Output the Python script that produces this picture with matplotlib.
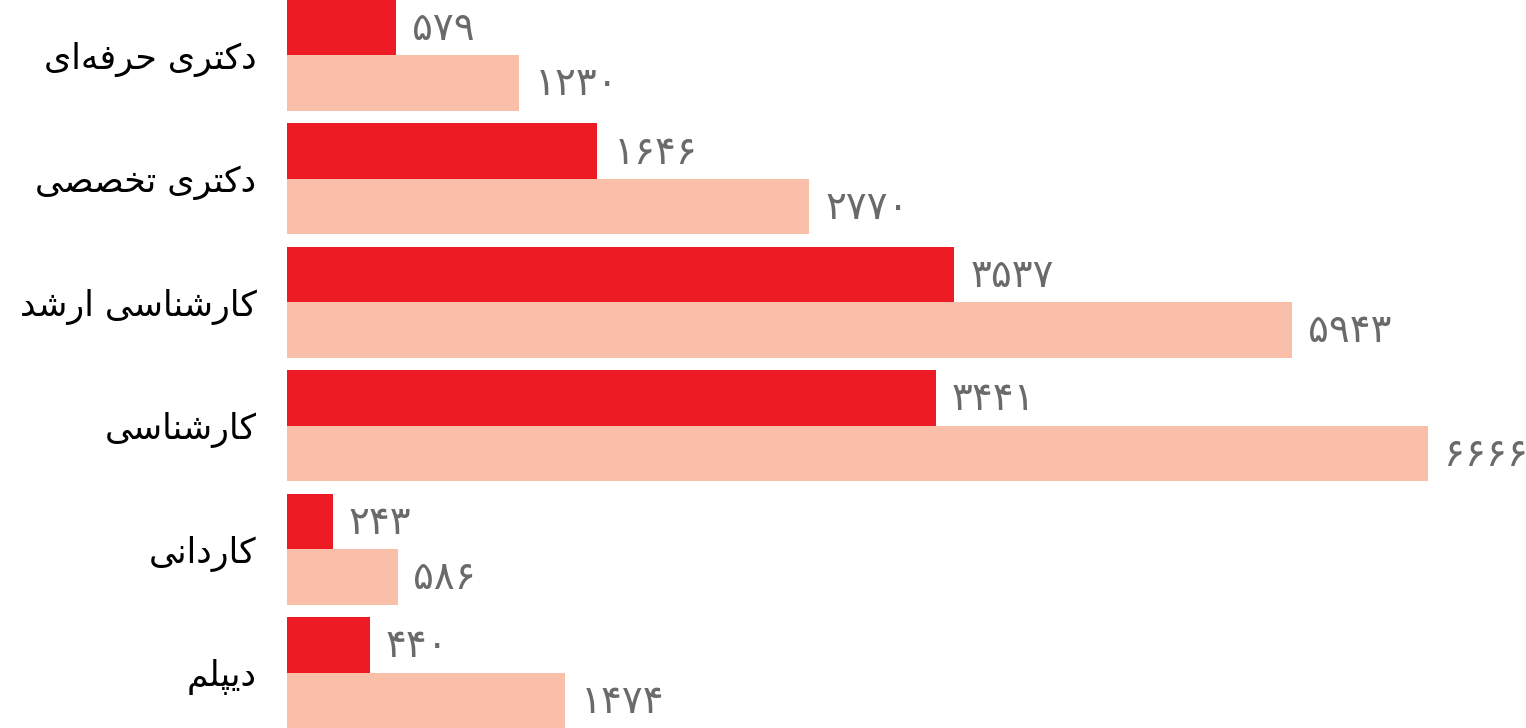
import numpy as np
import matplotlib
matplotlib.use("Agg")
import matplotlib.pyplot as plt

# ---------------- data ----------------
categories = ["دکتری حرفه‌ای", "دکتری تخصصی", "کارشناسی ارشد", "کارشناسی", "کاردانی", "دیپلم"]
series_a = [579, 1646, 3537, 3441, 243, 440]      # dark red
series_b = [1230, 2770, 5943, 6666, 586, 1474]    # light salmon

# ---------------- minimal Persian shaping ----------------
# letter: (isolated, final, initial, medial); None initial => does not join to next
FORMS = {
    'ا': ('\uFE8D', '\uFE8E', None, None),
    'ب': ('\uFE8F', '\uFE90', '\uFE91', '\uFE92'),
    'پ': ('\uFB56', '\uFB57', '\uFB58', '\uFB59'),
    'ت': ('\uFE95', '\uFE96', '\uFE97', '\uFE98'),
    'ج': ('\uFE9D', '\uFE9E', '\uFE9F', '\uFEA0'),
    'ح': ('\uFEA1', '\uFEA2', '\uFEA3', '\uFEA4'),
    'خ': ('\uFEA5', '\uFEA6', '\uFEA7', '\uFEA8'),
    'د': ('\uFEA9', '\uFEAA', None, None),
    'ر': ('\uFEAD', '\uFEAE', None, None),
    'ز': ('\uFEAF', '\uFEB0', None, None),
    'س': ('\uFEB1', '\uFEB2', '\uFEB3', '\uFEB4'),
    'ش': ('\uFEB5', '\uFEB6', '\uFEB7', '\uFEB8'),
    'ص': ('\uFEB9', '\uFEBA', '\uFEBB', '\uFEBC'),
    'ف': ('\uFED1', '\uFED2', '\uFED3', '\uFED4'),
    'ک': ('\uFB8E', '\uFB8F', '\uFB90', '\uFB91'),
    'ل': ('\uFEDD', '\uFEDE', '\uFEDF', '\uFEE0'),
    'م': ('\uFEE1', '\uFEE2', '\uFEE3', '\uFEE4'),
    'ن': ('\uFEE5', '\uFEE6', '\uFEE7', '\uFEE8'),
    'ه': ('\uFEE9', '\uFEEA', '\uFEEB', '\uFEEC'),
    'ی': ('\uFBFC', '\uFBFD', '\uFBFE', '\uFBFF'),
}


def shape(text):
    out = []
    n = len(text)
    for i, ch in enumerate(text):
        if ch not in FORMS:
            if ch != '\u200c':
                out.append(ch)
            continue
        prev = text[i - 1] if i > 0 else None
        nxt = text[i + 1] if i + 1 < n else None
        jp = prev in FORMS and FORMS[prev][2] is not None
        jn = FORMS[ch][2] is not None and nxt in FORMS
        iso, fin, ini, med = FORMS[ch]
        if jp and jn:
            out.append(med)
        elif jp:
            out.append(fin)
        elif jn:
            out.append(ini)
        else:
            out.append(iso)
    return ''.join(reversed(out))


def fa_digits(v):
    return str(v).translate(str.maketrans('0123456789', '۰۱۲۳۴۵۶۷۸۹'))


# ---------------- broken (compressed) value scale ----------------
def fwd(x):
    x = np.asarray(x, dtype=float)
    return np.where(x <= 4000, x,
                    np.where(x < 5000, 4000 + (x - 4000) * 0.385, x - 615))


def inv(y):
    y = np.asarray(y, dtype=float)
    return np.where(y <= 4000, y,
                    np.where(y < 4385, 4000 + (y - 4000) / 0.385, y + 615))


# ---------------- figure ----------------
plt.rcParams['font.family'] = ['DejaVu Sans']
fig = plt.figure(figsize=(15.26, 7.28), dpi=100)
ax = fig.add_axes([287 / 1526, 0, 1 - 287 / 1526, 1])
ax.set_xscale('function', functions=(fwd, inv))

DARK = '#ED1C24'
LIGHT = '#F9BFA8'
VAL = '#6A6A6A'
bh = 0.448
y = np.arange(len(categories))

ax.barh(y - bh / 2, series_a, height=bh, color=DARK, linewidth=0)
ax.barh(y + bh / 2, series_b, height=bh, color=LIGHT, linewidth=0)

for yi, va_, vb_ in zip(y, series_a, series_b):
    ax.annotate(fa_digits(va_), (va_, yi - bh / 2), xytext=(11.5, -1),
                textcoords='offset points', va='center', ha='left',
                fontsize=28, color=VAL)
    ax.annotate(fa_digits(vb_), (vb_, yi + bh / 2), xytext=(11.5, -1),
                textcoords='offset points', va='center', ha='left',
                fontsize=28, color=VAL)

ax.set_xlim(0, 7184)
ax.set_ylim(5 + bh, -bh)
ax.set_yticks(y)
ax.set_yticklabels([shape(c) for c in categories], fontsize=25, color='black')
ax.tick_params(axis='y', length=0, pad=22)
ax.set_xticks([])
for s in ax.spines.values():
    s.set_visible(False)
ax.patch.set_alpha(0)

fig.savefig('out.png', dpi=100)
